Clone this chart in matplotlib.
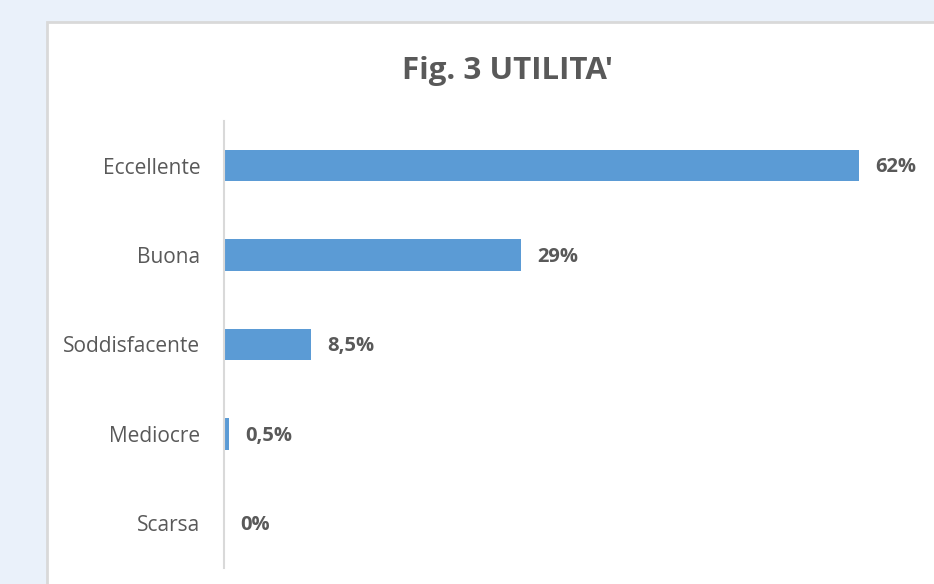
import matplotlib
matplotlib.use('Agg')
import matplotlib.pyplot as plt
from matplotlib.patches import Rectangle

# dati
categorie = ['Eccellente', 'Buona', 'Soddisfacente', 'Mediocre', 'Scarsa']
valori = [62, 29, 8.5, 0.5, 0]
etichette = ['62%', '29%', '8,5%', '0,5%', '0%']

plt.rcParams['font.family'] = ['Open Sans', 'DejaVu Sans']
grigio = '#595959'

fig = plt.figure(figsize=(9.34, 5.84), dpi=100)
fig.patch.set_facecolor('#EAF1FA')

# riquadro bianco del grafico
fig.patches.append(Rectangle((47 / 934, -0.1), 1.0, 1 - 22 / 584 + 0.1,
                             transform=fig.transFigure, facecolor='white',
                             edgecolor='#D9D9D9', linewidth=2, zorder=-5))

ax = fig.add_axes([224 / 934, 16 / 584, 1 - 224 / 934, (568 - 121) / 584])
ax.set_facecolor('none')
ax.set_zorder(5)

y = range(len(categorie))
ax.barh(y, valori, height=0.35, color='#5B9BD5')
ax.set_ylim(len(categorie) - 0.5, -0.5)
ax.set_xlim(0, 69.3)

for i, (v, t) in enumerate(zip(valori, etichette)):
    ax.annotate(t, (v, i), xytext=(11.5, -1.2), textcoords='offset points',
                va='center', ha='left', fontsize=14.5, fontweight='bold', color=grigio)

ax.set_yticks(list(y))
ax.set_yticklabels(categorie, fontsize=15, color=grigio)
ax.tick_params(axis='y', length=0, pad=17)
ax.set_xticks([])
for s in ['top', 'right', 'bottom']:
    ax.spines[s].set_visible(False)
ax.spines['left'].set_color('#D9D9D9')
ax.spines['left'].set_linewidth(1.5)

fig.text(508 / 934, 1 - 71 / 584, "Fig. 3 UTILITA'", ha='center', va='center',
         fontsize=22.5, fontweight='bold', color=grigio)

fig.savefig('out.png', dpi=100, facecolor=fig.get_facecolor())
